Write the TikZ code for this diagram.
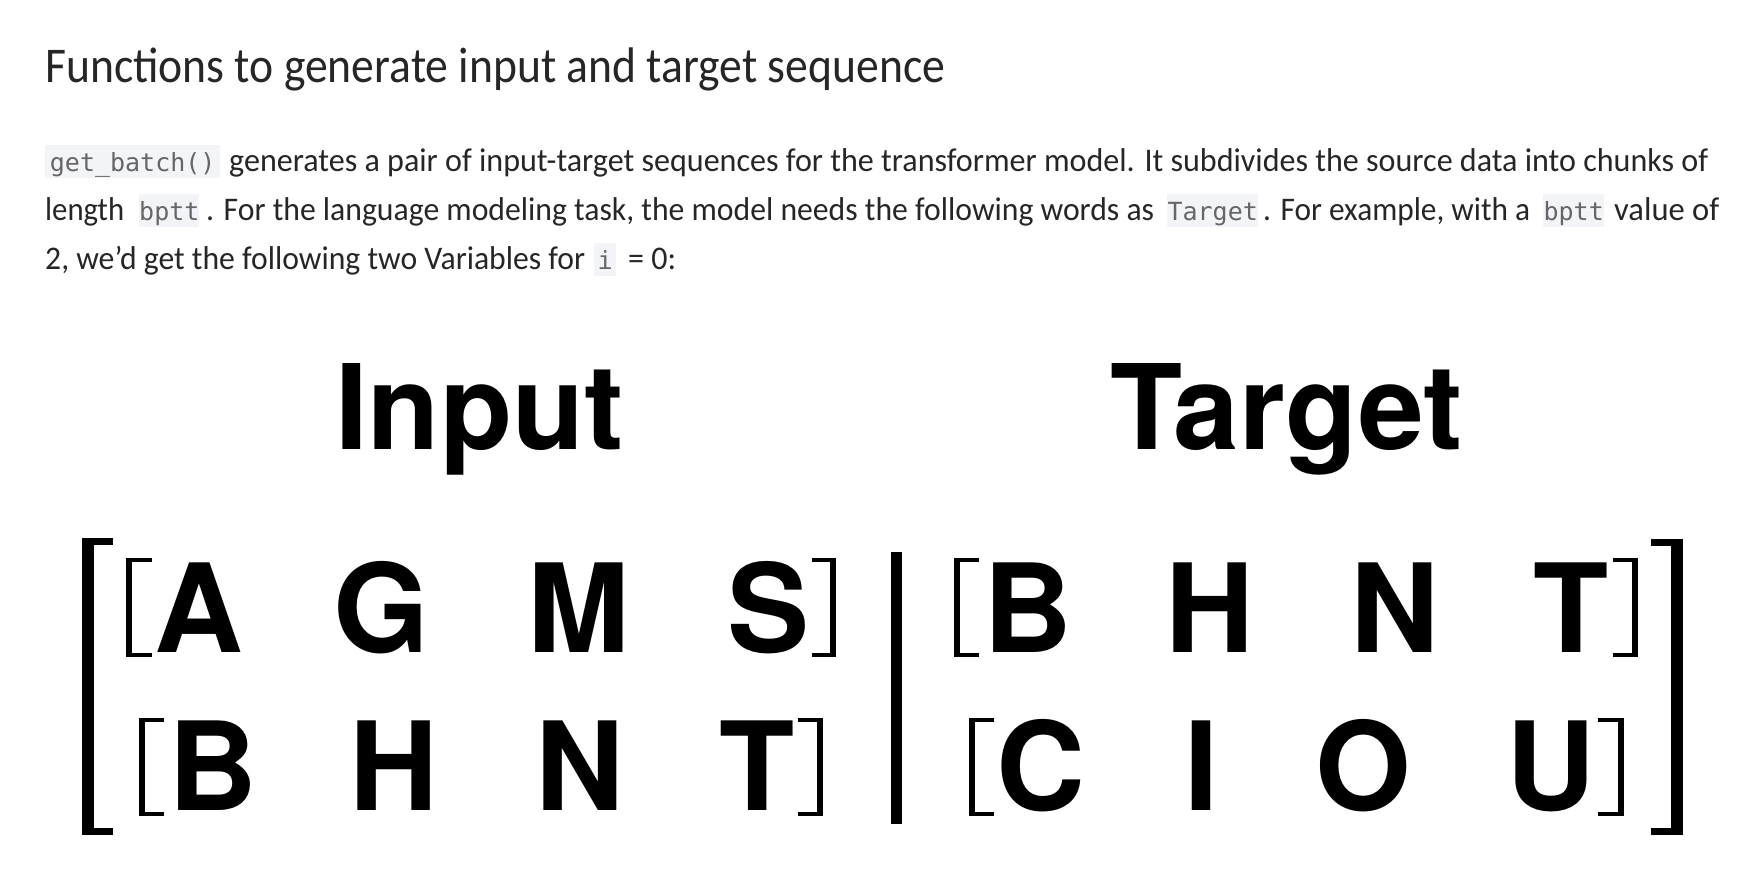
\documentclass[tikz,border=0pt]{standalone}
\usepackage{fontspec}
\usepackage{graphicx}
\setmainfont{Carlito}
\newfontfamily\bodyfont{Carlito}
\newfontfamily\titlefont{Carlito}
\newfontfamily\codefont{DejaVu Sans Mono}
\newfontfamily\herosfont{TeX Gyre Heros}
\definecolor{txt}{HTML}{262626}
\definecolor{codefg}{HTML}{666668}
\definecolor{codebg}{HTML}{F3F4F7}
% fit text to a given width, keeping its height
\newcommand\fitw[2]{\resizebox{#1pt}{\height}{#2}}
% left bracket: x1 x2 y1 y2 vertical-width arm-height
\newcommand\lbrk[6]{\fill (#1,#3) rectangle (#2,#3+#6); \fill (#1,#3) rectangle (#1+#5,#4); \fill (#1,#4-#6) rectangle (#2,#4);}
\newcommand\rbrk[6]{\fill (#1,#3) rectangle (#2,#3+#6); \fill (#2-#5,#3) rectangle (#2,#4); \fill (#1,#4-#6) rectangle (#2,#4);}
\tikzset{
  titletext/.style={anchor=base west, inner sep=0pt, text=txt, font=\titlefont\fontsize{50}{56}\selectfont},
  body/.style={anchor=base west, inner sep=0pt, text=txt, font=\bodyfont\fontsize{33}{38}\selectfont},
  code/.style={anchor=base west, inner xsep=0pt, inner ysep=0pt, fill=codebg, text=codefg, align=center,
    font=\codefont\fontsize{25}{29}\selectfont, text height=26pt, text depth=7pt},
  big/.style={anchor=base, inner sep=0pt, font=\herosfont\bfseries\fontsize{123}{130}\selectfont},
  head/.style={anchor=base, inner sep=0pt, font=\herosfont\bfseries\fontsize{118}{125}\selectfont},
}
\begin{document}
\begin{tikzpicture}[x=1pt,y=-1pt]
\useasboundingbox[fill=white] (0,0) rectangle (1748,886);
% title
\node[titletext] (title) at (45,82) {\fitw{900}{Functions to generate input and target sequence}};
% paragraph line 1
\node[code, minimum width=175pt] (c1) at (45,171) {get\_batch()};
\node[body] (t1) at (229,171) {\fitw{1479}{generates a pair of input-target sequences for the transformer model. It subdivides the source data into chunks of}};
% line 2
\node[body] (t2a) at (45,220) {\fitw{79}{length}};
\node[code, minimum width=60pt] (c2a) at (139,220) {bptt};
\node[body] (t2b) at (206,220) {\fitw{948}{. For the language modeling task, the model needs the following words as}};
\node[code, minimum width=91pt] (c2b) at (1167,220) {Target};
\node[body] (t2c) at (1263,220) {\fitw{267}{. For example, with a}};
\node[code, minimum width=61pt] (c2c) at (1543,220) {bptt};
\node[body] (t2d) at (1614,220) {\fitw{105}{value of}};
% line 3
\node[body] (t3a) at (45,269) {\fitw{540}{2, we’d get the following two Variables for}};
\node[code, minimum width=22pt] (c3) at (594,269) {i};
\node[body] (t3b) at (628,269) {\fitw{48}{= 0:}};
% headers
\node[head] (inp) at (479.5,449) {Input};
\node[head] (tgt) at (1286.5,449) {Target};
% row 1
\node[big] (r1a) at (198.5,652) {A};
\node[big] (r1b) at (381,652) {G};
\node[big] (r1c) at (578.5,652) {M};
\node[big] (r1d) at (768.5,652) {S};
\node[big] (r1e) at (1028,652) {B};
\node[big] (r1f) at (1209.5,652) {H};
\node[big] (r1g) at (1394.5,652) {N};
\node[big] (r1h) at (1571.5,652) {T};
% row 2
\node[big] (r2a) at (212.5,810) {B};
\node[big] (r2b) at (393.5,810) {H};
\node[big] (r2c) at (580,810) {N};
\node[big] (r2d) at (757.5,810) {T};
\node[big] (r2e) at (1041,810) {C};
\node[big] (r2f) at (1201.5,810) {I};
\node[big] (r2g) at (1363,810) {O};
\node[big] (r2h) at (1550.5,810) {U};
% outer brackets
\lbrk{82}{113}{538}{835}{11.5}{7}
\rbrk{1651}{1683}{539}{835}{12}{7}
% divider
\fill (891,552) rectangle (902,824);
% inner brackets row 1
\lbrk{126}{152}{558}{657}{6}{4}
\rbrk{812}{836}{558}{657}{6}{4}
\lbrk{954}{979}{558}{657}{6}{4}
\rbrk{1613}{1638}{558}{657}{6}{4}
% inner brackets row 2
\lbrk{139}{164}{718}{816}{6}{4}
\rbrk{798}{823}{718}{816}{6}{4}
\lbrk{969}{994}{718}{816}{6}{4}
\rbrk{1598}{1624}{718}{816}{6}{4}
\end{tikzpicture}
\end{document}
